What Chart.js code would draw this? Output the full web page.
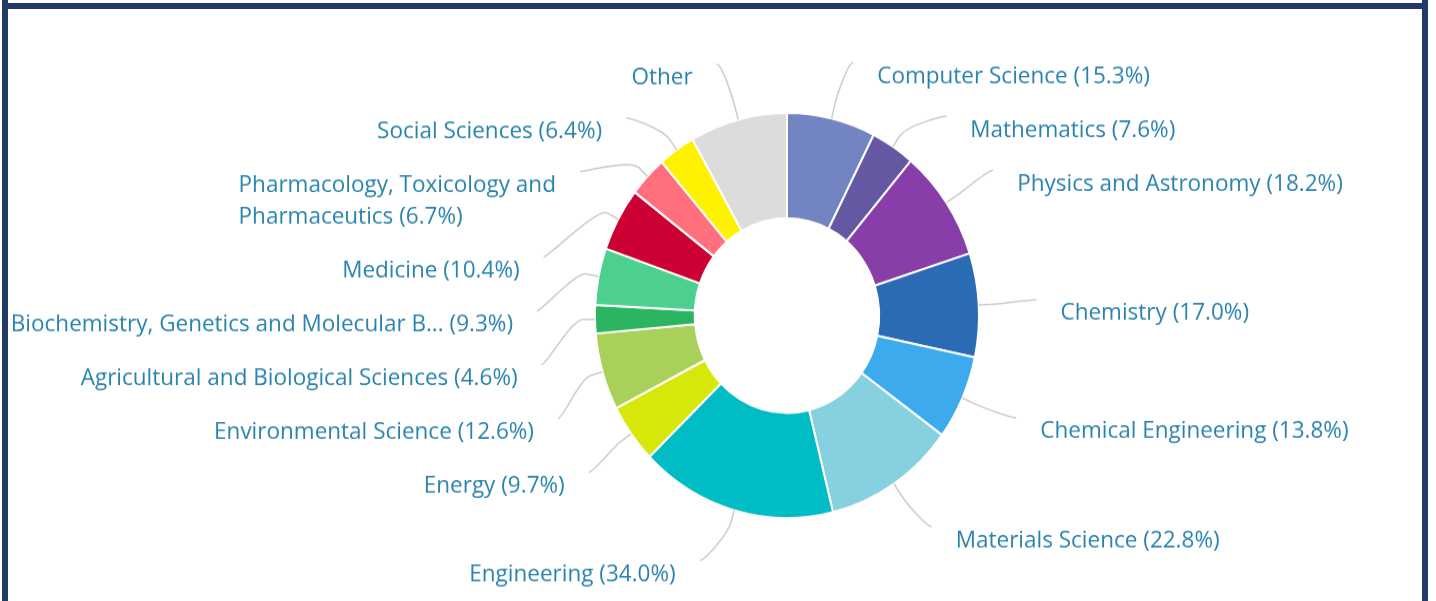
<!DOCTYPE html>
<html>
<head>
<meta charset="utf-8">
<script src="https://cdn.jsdelivr.net/npm/chart.js@4.4.1/dist/chart.umd.min.js"></script>
<style>
  html, body { margin: 0; padding: 0; background: #fff; overflow: hidden; }
  #page { position: relative; width: 1436px; height: 601px; overflow: hidden; }
  #stretch { position: absolute; left: 0; top: 0; width: 1436px; height: 570px;
             transform: scaleY(1.055); transform-origin: 0 0; }
  .bar { position: absolute; background: #213a66; }
</style>
</head>
<body>
<div id="page">
  <div id="stretch"><canvas id="chart" width="1436" height="570"></canvas></div>
  <div class="bar" style="left:2px; top:0; width:6px; height:601px"></div>
  <div class="bar" style="left:1422px; top:0; width:6px; height:601px"></div>
  <div class="bar" style="left:2px; top:3px; width:1426px; height:6px"></div>
</div>
<script>
// subject areas, clockwise from 12 o'clock
const subjectLabels = [
  'Computer Science',
  'Mathematics',
  'Physics and Astronomy',
  'Chemistry',
  'Chemical Engineering',
  'Materials Science',
  'Engineering',
  'Energy',
  'Environmental Science',
  'Agricultural and Biological Sciences',
  'Biochemistry, Genetics and Molecular B...',
  'Medicine',
  ['Pharmacology, Toxicology and', 'Pharmaceutics'],
  'Social Sciences',
  'Other'
];
// share of documents in %, "Other" estimated from its slice
const subjectShares = [15.3, 7.6, 18.2, 17.0, 13.8, 22.8, 34.0, 9.7, 12.6, 4.6, 9.3, 10.4, 6.7, 6.4, 16.8];
const sliceColors = [
  '#7384c2', '#6558a2', '#873ea9', '#2a6bb4', '#3eaaee', '#86d0e0', '#00bcc4',
  '#d6e80a', '#a9d159', '#2cb560', '#4ccf8f', '#cc0033', '#ff6f7c', '#fff200', '#dcdcdc'
];

const LABEL_FONT = '22.5px "Open Sans"';
const LABEL_COLOR = '#2a83ad';
const LINE_COLOR = '#cccccc';

// labels outside the ring with soft connectors
const outerLabels = {
  id: 'outerLabels',
  afterDatasetsDraw(chart) {
    const ctx = chart.ctx;
    const arcs = chart.getDatasetMeta(0).data;
    const items = arcs.map((arc, i) => {
      const mid = (arc.startAngle + arc.endAngle) / 2;
      const lines = [].concat(chart.data.labels[i]);
      if (chart.data.labels[i] !== 'Other') {
        lines[lines.length - 1] += ' (' + chart.data.datasets[0].data[i].toFixed(1) + '%)';
      }
      return {
        arc, lines,
        cos: Math.cos(mid), sin: Math.sin(mid),
        right: Math.cos(mid) >= 0,
        natY: arc.y - 2.5 + (arc.outerRadius + 52) * Math.sin(mid),
        h: 21 + 30 * lines.length
      };
    });

    // push overlapping labels down, per side
    [true, false].forEach(side => {
      const group = items.filter(it => it.right === side).sort((a, b) => a.natY - b.natY);
      let prev = null;
      group.forEach(it => {
        it.y = prev ? Math.max(it.natY, prev.y + prev.h) : it.natY;
        prev = it;
      });
    });

    ctx.save();
    items.forEach(it => {
      const {arc} = it;
      const R = arc.outerRadius, cx = arc.x, cy = arc.y;
      const dir = it.right ? 1 : -1;
      const k = (it.y - cy) / (R + 62);
      const ex = (R + 82) * Math.sqrt(Math.max(0, 1 - k * k));
      const textX = cx + dir * ex;
      const endX = textX - dir * 24;

      const lx = cx + it.cos * R, ly = cy + it.sin * R;
      const bx = cx + it.cos * (R + 12), by = cy + it.sin * (R + 12);
      ctx.strokeStyle = LINE_COLOR;
      ctx.lineWidth = 1.5;
      ctx.beginPath();
      ctx.moveTo(endX, it.y);
      ctx.bezierCurveTo(endX - dir * 5, it.y, 2 * bx - lx, 2 * by - ly, bx, by);
      ctx.lineTo(lx, ly);
      ctx.stroke();

      ctx.font = LABEL_FONT;
      ctx.fillStyle = LABEL_COLOR;
      ctx.textBaseline = 'middle';
      ctx.textAlign = 'left';
      const w = Math.max(...it.lines.map(t => ctx.measureText(t).width));
      const left = it.right ? textX : textX - w;
      it.lines.forEach((t, j) => ctx.fillText(t, left, it.y + 13 + j * 29.5));
    });
    ctx.restore();
  }
};

new Chart(document.getElementById('chart'), {
  type: 'doughnut',
  data: {
    labels: subjectLabels,
    datasets: [{
      data: subjectShares,
      backgroundColor: sliceColors,
      borderColor: '#ffffff',
      borderWidth: 2
    }]
  },
  options: {
    responsive: false,
    animation: false,
    devicePixelRatio: 1,
    radius: 192,
    cutout: 124,
    layout: { padding: { left: 200, right: 62, top: 40, bottom: 11.8 } },
    plugins: { legend: { display: false }, tooltip: { enabled: false } }
  },
  plugins: [outerLabels]
});
</script>
</body>
</html>
